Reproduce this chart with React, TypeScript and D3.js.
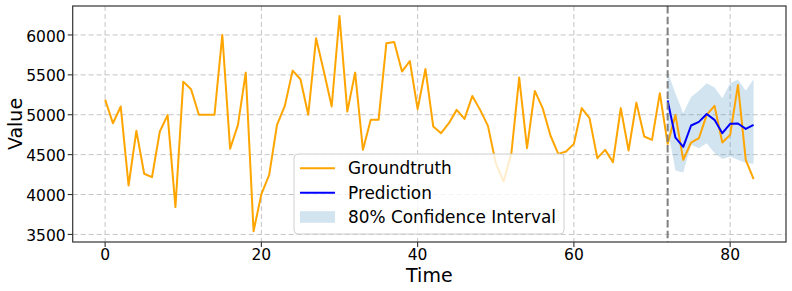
import React, { useEffect, useRef } from 'react';
import * as d3 from 'd3';

// observed series, t = 0..83
const groundtruth = [
  5190, 4894, 5103, 4113, 4798, 4260, 4218, 4790, 4995, 3843,
  5415, 5320, 5000, 5000, 5000, 6000, 4573, 4873, 5528, 3540,
  4005, 4247, 4873, 5111, 5553, 5445, 5000, 5958, 5541, 5103,
  6238, 5040, 5528, 4560, 4936, 4936, 5896, 5912, 5541, 5674,
  5070, 5574, 4852, 4769, 4894, 5061, 4948, 5236, 5061, 4861,
  4394, 4164, 4519, 5466, 4581, 5299, 5083, 4740, 4510, 4539,
  4635, 5083, 4957, 4456, 4560, 4406, 5083, 4552, 5152, 4727,
  4685, 5270, 4635, 4998, 4435, 4652, 4706, 4998, 5111, 4652,
  4748, 5374, 4435, 4193,
];

// forecast starts at t = 72
const forecastStart = 72;
const prediction = [5178, 4712, 4598, 4865, 4911, 5009, 4936, 4769, 4886, 4890, 4823, 4873];
const ciUpper = [5535, 5265, 5020, 5222, 5300, 5395, 5343, 5207, 5395, 5441, 5300, 5445];
const ciLower = [4830, 4300, 4276, 4623, 4581, 4644, 4519, 4444, 4477, 4435, 4394, 4385];

const xTicks = [0, 20, 40, 60, 80];
const yTicks = [3500, 4000, 4500, 5000, 5500, 6000];
const xDomain: [number, number] = [-4.15, 87.15];
const yDomain: [number, number] = [3405, 6363];

const legendItems = ['Groundtruth', 'Prediction', '80% Confidence Interval'];

const FONT = 'DejaVu Sans, sans-serif';

export default function App() {
  const svgRef = useRef<SVGSVGElement>(null);

  useEffect(() => {
    if (!svgRef.current) return;
    const svg = d3.select(svgRef.current);
    svg.selectAll('*').remove();

    const width = 792;
    const height = 291;
    const left = 72.7, right = 786, top = 6, bottom = 242;

    const x = d3.scaleLinear().domain(xDomain).range([left, right]);
    const y = d3.scaleLinear().domain(yDomain).range([bottom, top]);

    svg.attr('width', width).attr('height', height);

    // grid
    const grid = svg.append('g');
    grid.selectAll('.gx')
      .data(xTicks)
      .join('line')
      .attr('x1', d => x(d)).attr('x2', d => x(d))
      .attr('y1', top).attr('y2', bottom)
      .attr('stroke', '#c4c4c4')
      .attr('stroke-width', 1)
      .attr('stroke-dasharray', '5,3');
    grid.selectAll('.gy')
      .data(yTicks)
      .join('line')
      .attr('x1', left).attr('x2', right)
      .attr('y1', d => y(d)).attr('y2', d => y(d))
      .attr('stroke', '#c4c4c4')
      .attr('stroke-width', 1)
      .attr('stroke-dasharray', '5,3');

    // confidence band
    const fcIdx = prediction.map((_, i) => forecastStart + i);
    const area = d3.area<number>()
      .x(d => x(d))
      .y0(d => y(ciLower[d - forecastStart]))
      .y1(d => y(ciUpper[d - forecastStart]));
    svg.append('path')
      .attr('d', area(fcIdx) || '')
      .attr('fill', '#1f77b4')
      .attr('fill-opacity', 0.2);

    // groundtruth
    const line = d3.line<number>()
      .x((d, i) => x(i))
      .y(d => y(d));
    svg.append('path')
      .attr('d', line(groundtruth) || '')
      .attr('fill', 'none')
      .attr('stroke', '#ffa500')
      .attr('stroke-width', 2)
      .attr('stroke-linejoin', 'round');

    // prediction
    const predLine = d3.line<number>()
      .x((d, i) => x(forecastStart + i))
      .y(d => y(d));
    svg.append('path')
      .attr('d', predLine(prediction) || '')
      .attr('fill', 'none')
      .attr('stroke', '#0000ff')
      .attr('stroke-width', 2)
      .attr('stroke-linejoin', 'round');

    // forecast start marker
    svg.append('line')
      .attr('x1', x(forecastStart)).attr('x2', x(forecastStart))
      .attr('y1', top).attr('y2', bottom)
      .attr('stroke', '#7f7f7f')
      .attr('stroke-width', 2)
      .attr('stroke-dasharray', '7.5,3.2');

    // spines
    svg.append('rect')
      .attr('x', left).attr('y', top)
      .attr('width', right - left).attr('height', bottom - top)
      .attr('fill', 'none')
      .attr('stroke', '#333')
      .attr('stroke-width', 1.2);

    // ticks
    const tickG = svg.append('g')
      .style('font-family', FONT)
      .style('font-size', '15.5px')
      .attr('fill', '#000');

    xTicks.forEach(t => {
      tickG.append('line')
        .attr('x1', x(t)).attr('x2', x(t))
        .attr('y1', bottom).attr('y2', bottom + 5)
        .attr('stroke', '#333').attr('stroke-width', 1.1);
      tickG.append('text')
        .attr('x', x(t)).attr('y', bottom + 18)
        .attr('text-anchor', 'middle')
        .text(t);
    });
    yTicks.forEach(t => {
      tickG.append('line')
        .attr('x1', left - 5).attr('x2', left)
        .attr('y1', y(t)).attr('y2', y(t))
        .attr('stroke', '#333').attr('stroke-width', 1.1);
      tickG.append('text')
        .attr('x', left - 7).attr('y', y(t) + 1)
        .attr('dy', '0.36em')
        .attr('text-anchor', 'end')
        .text(t);
    });

    // axis labels
    svg.append('text')
      .attr('x', (left + right) / 2).attr('y', 281.5)
      .attr('text-anchor', 'middle')
      .style('font-family', FONT)
      .style('font-size', '19px')
      .text('Time');
    svg.append('text')
      .attr('transform', `translate(22,${(top + bottom) / 2}) rotate(-90)`)
      .attr('text-anchor', 'middle')
      .style('font-family', FONT)
      .style('font-size', '19px')
      .text('Value');

    // legend
    const lg = svg.append('g');
    lg.append('rect')
      .attr('x', 294).attr('y', 154)
      .attr('width', 270).attr('height', 80)
      .attr('rx', 4)
      .attr('fill', '#fff').attr('fill-opacity', 0.8)
      .attr('stroke', '#d0d0d0').attr('stroke-width', 1);

    const rowY = [168.3, 192.7, 217];
    lg.append('line')
      .attr('x1', 300).attr('x2', 335)
      .attr('y1', rowY[0]).attr('y2', rowY[0])
      .attr('stroke', '#ffa500').attr('stroke-width', 2);
    lg.append('line')
      .attr('x1', 300).attr('x2', 335)
      .attr('y1', rowY[1]).attr('y2', rowY[1])
      .attr('stroke', '#0000ff').attr('stroke-width', 2);
    lg.append('rect')
      .attr('x', 300).attr('y', rowY[2] - 5.8)
      .attr('width', 35).attr('height', 11.6)
      .attr('fill', '#1f77b4').attr('fill-opacity', 0.2);

    lg.selectAll('.lt')
      .data(legendItems)
      .join('text')
      .attr('x', 348)
      .attr('y', (d, i) => rowY[i])
      .attr('dy', '0.36em')
      .style('font-family', FONT)
      .style('font-size', '16.9px')
      .text(d => d);
  }, []);

  return (
    <div style={{ position: 'absolute', left: 0, top: 0 }}>
      <svg ref={svgRef} style={{ display: 'block' }} />
    </div>
  );
}
